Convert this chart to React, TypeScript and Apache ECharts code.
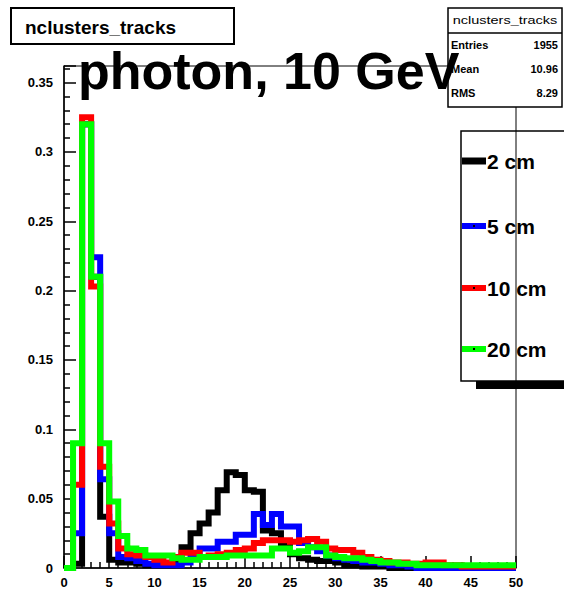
import React, { useEffect, useRef } from "react";
import * as echarts from "echarts";

// Normalised nclusters_tracks distributions, one value per unit bin on [0, 50)
const black2cm = [
  0, 0.003, 0.32, 0.21, 0.037, 0.006, 0.004, 0.004, 0.003, 0.002,
  0.002, 0.002, 0.003, 0.015, 0.025, 0.032, 0.04, 0.056, 0.069, 0.067,
  0.056, 0.055, 0.027, 0.025, 0.018, 0.01, 0.007, 0.006, 0.005, 0.005,
  0.004, 0.002, 0.002, 0.001, 0.001, 0.001, 0, 0, 0, 0,
  0, 0, 0, 0, 0, 0, 0, 0, 0, 0,
];
const blue5cm = [
  0, 0.025, 0.32, 0.224, 0.064, 0.025, 0.008, 0.007, 0.005, 0.003,
  0.002, 0.002, 0.002, 0.004, 0.008, 0.014, 0.014, 0.019, 0.019, 0.024,
  0.024, 0.039, 0.031, 0.039, 0.03, 0.03, 0.018, 0.015, 0.012, 0.009,
  0.007, 0.006, 0.005, 0.004, 0.004, 0.003, 0.002, 0.002, 0.001, 0,
  0, 0, 0, 0, 0, 0, 0, 0, 0, 0,
];
const red10cm = [
  0, 0.06, 0.325, 0.203, 0.073, 0.032, 0.014, 0.01, 0.009, 0.008,
  0.006, 0.004, 0.008, 0.011, 0.011, 0.008, 0.009, 0.01, 0.011, 0.013,
  0.014, 0.018, 0.02, 0.02, 0.02, 0.019, 0.02, 0.021, 0.019, 0.014,
  0.013, 0.013, 0.011, 0.008, 0.006, 0.005, 0.004, 0.004, 0.003, 0.003,
  0.004, 0.004, 0.002, 0.002, 0.001, 0.001, 0.001, 0.001, 0.001, 0.001,
];
const green20cm = [
  0, 0.09, 0.32, 0.21, 0.09, 0.048, 0.023, 0.014, 0.013, 0.009,
  0.009, 0.009, 0.007, 0.006, 0.006, 0.008, 0.008, 0.008, 0.009, 0.009,
  0.009, 0.009, 0.009, 0.014, 0.014, 0.011, 0.012, 0.015, 0.015, 0.009,
  0.008, 0.007, 0.007, 0.006, 0.005, 0.004, 0.004, 0.003, 0.003, 0.002,
  0.002, 0.002, 0.002, 0.002, 0.002, 0.002, 0.002, 0.002, 0.002, 0.002,
];

const seriesNames = ["2 cm", "5 cm", "10 cm", "20 cm"];
const seriesColors = ["#000000", "#0000ff", "#ff0000", "#00ff00"];
const seriesValues = [black2cm, blue5cm, red10cm, green20cm];

const histTitle = "nclusters_tracks";
const plotTitle = "photon, 10 GeV";
const statsRows = [
  ["Entries", "1955"],
  ["Mean", "10.96"],
  ["RMS", "8.29"],
];

const xMin = 0;
const xMax = 50;
const yMax = 0.362;

const FONT = "'Liberation Sans', Arial, Helvetica, sans-serif";

// bin contents -> step points at the bin edges
function toSteps(vals: number[]): number[][] {
  const pts = vals.map((v, i) => [i, v]);
  pts.push([vals.length, vals[vals.length - 1]]);
  return pts;
}

export default function App() {
  const ref = useRef<HTMLDivElement>(null);

  useEffect(() => {
    document.body.style.margin = "0";
    if (!ref.current) return;
    const chart = echarts.init(ref.current, undefined, { renderer: "svg" });

    const legendY = [161, 226, 288, 349];
    const legendGraphics: any[] = [
      {
        type: "rect",
        shape: { x: 461, y: 131, width: 130, height: 250 },
        style: { fill: "none", stroke: "#000", lineWidth: 1.5 },
        z: 100,
      },
      {
        type: "rect",
        shape: { x: 476, y: 381, width: 100, height: 8 },
        style: { fill: "#000" },
        z: 100,
      },
    ];
    seriesNames.forEach((name, i) => {
      legendGraphics.push({
        type: "line",
        shape: { x1: 462, y1: legendY[i], x2: 486, y2: legendY[i] },
        style: { stroke: seriesColors[i], lineWidth: i === 0 ? 7 : 6 },
        z: 101,
      });
      if (i > 0) {
        legendGraphics.push({
          type: "rect",
          shape: { x: 473, y: legendY[i] - 1, width: 2, height: 2 },
          style: { fill: "#000" },
          z: 102,
        });
      }
      legendGraphics.push({
        type: "text",
        x: 487,
        y: legendY[i],
        style: {
          text: name,
          font: `bold 21px ${FONT}`,
          fill: "#000",
          textVerticalAlign: "middle",
        },
        z: 101,
      });
    });

    const statsGraphics: any[] = [
      {
        type: "rect",
        shape: { x: 448, y: 8, width: 114, height: 99 },
        style: { fill: "#fff", stroke: "#000", lineWidth: 1.5 },
        z: 100,
      },
      {
        type: "line",
        shape: { x1: 448, y1: 33, x2: 562, y2: 33 },
        style: { stroke: "#000", lineWidth: 1.5 },
        z: 101,
      },
      {
        type: "text",
        x: 505,
        y: 21,
        scaleX: 1.45,
        style: {
          text: histTitle,
          font: `10px ${FONT}`,
          fill: "#000",
          textAlign: "center",
          textVerticalAlign: "middle",
        },
        z: 101,
      },
    ];
    statsRows.forEach((row, i) => {
      const y = 45 + i * 24;
      statsGraphics.push({
        type: "text",
        x: 451,
        y,
        style: {
          text: row[0],
          font: `bold 11px ${FONT}`,
          fill: "#000",
          textVerticalAlign: "middle",
        },
        z: 101,
      });
      statsGraphics.push({
        type: "text",
        x: 558,
        y,
        style: {
          text: row[1],
          font: `bold 11px ${FONT}`,
          fill: "#000",
          textAlign: "right",
          textVerticalAlign: "middle",
        },
        z: 101,
      });
    });

    const option: any = {
      animation: false,
      backgroundColor: "#fff",
      grid: {
        left: 64,
        top: 66,
        width: 452,
        height: 502,
        show: true,
        borderColor: "#000",
        borderWidth: 1,
        backgroundColor: "transparent",
      },
      xAxis: {
        type: "value",
        min: xMin,
        max: xMax,
        interval: 5,
        axisLine: { show: true, lineStyle: { color: "#000", width: 1.5 } },
        axisTick: { inside: true, length: 12, lineStyle: { color: "#000", width: 1.5 } },
        minorTick: { show: true, splitNumber: 5, length: 6, lineStyle: { color: "#000", width: 1.5 } },
        splitLine: { show: false },
        axisLabel: {
          color: "#000",
          fontSize: 13,
          fontWeight: "bold",
          fontFamily: FONT,
          margin: 8,
        },
      },
      yAxis: {
        type: "value",
        min: 0,
        max: yMax,
        interval: 0.05,
        axisLine: { show: true, lineStyle: { color: "#000", width: 1.5 } },
        axisTick: { inside: true, length: 12, lineStyle: { color: "#000", width: 1.5 } },
        minorTick: { show: true, splitNumber: 5, length: 6, lineStyle: { color: "#000", width: 1.5 } },
        splitLine: { show: false },
        axisLabel: {
          color: "#000",
          fontSize: 13,
          fontWeight: "bold",
          fontFamily: FONT,
          margin: 11,
          showMaxLabel: false,
          formatter: (v: number) => (v === 0 ? "0" : String(+v.toFixed(3))),
        },
      },
      series: seriesValues.map((vals, i) => ({
        name: seriesNames[i],
        type: "line",
        step: "end",
        data: toSteps(vals),
        showSymbol: false,
        clip: false,
        lineStyle: { color: seriesColors[i], width: 6, join: "miter" },
        z: 2 + i,
      })),
      graphic: [
        {
          type: "rect",
          shape: { x: 11, y: 8, width: 223, height: 36 },
          style: { fill: "#fff", stroke: "#000", lineWidth: 2 },
          z: 100,
        },
        {
          type: "text",
          x: 25,
          y: 27,
          style: {
            text: histTitle,
            font: `bold 19px ${FONT}`,
            fill: "#000",
            textVerticalAlign: "middle",
          },
          z: 101,
        },
        ...statsGraphics,
        ...legendGraphics,
        {
          type: "text",
          x: 78,
          y: 97,
          style: {
            text: plotTitle,
            font: `bold 52px ${FONT}`,
            fill: "#000",
            textVerticalAlign: "bottom",
          },
          z: 110,
        },
      ],
    };

    chart.setOption(option);
    return () => chart.dispose();
  }, []);

  return <div ref={ref} style={{ width: 564, height: 594 }} />;
}
